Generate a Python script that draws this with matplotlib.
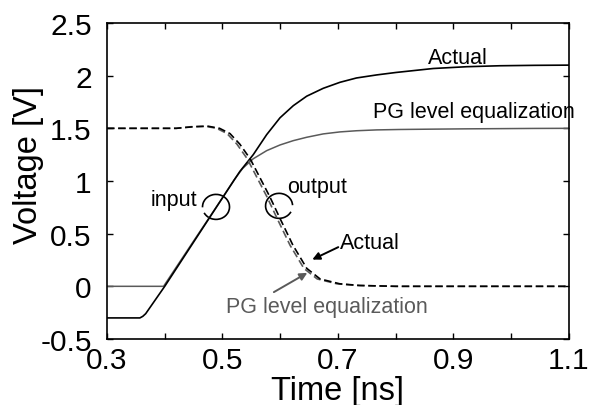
import numpy as np
import matplotlib
matplotlib.use('Agg')
import matplotlib.pyplot as plt
from matplotlib.patches import Arc

plt.rcParams['font.family'] = ['Liberation Sans', 'DejaVu Sans']

# ------------------------------------------
# Waveforms (time in ns, voltage in V)
# ------------------------------------------

# Input, actual level (rises to ~2.1 V)
t_in_act = [0.30, 0.357, 0.362, 0.367, 0.40, 0.45, 0.50, 0.53, 0.5533, 0.5765,
            0.5996, 0.6226, 0.6458, 0.6745, 0.7035, 0.732, 0.767, 0.80,
            0.865, 0.923, 0.98, 1.04, 1.10]
v_in_act = [-0.30, -0.30, -0.285, -0.26, 0.0, 0.42, 0.84, 1.09, 1.25, 1.44,
            1.60, 1.715, 1.805, 1.88, 1.937, 1.978, 2.007, 2.03,
            2.068, 2.085, 2.094, 2.098, 2.10]

# Input, PG level equalization (rises to 1.5 V)
t_in_pg = [0.30, 0.398, 0.45, 0.50, 0.52, 0.535, 0.553, 0.5765, 0.5996, 0.6226,
           0.6458, 0.6745, 0.7035, 0.732, 0.767, 0.807, 0.86, 0.92, 0.98, 1.04, 1.10]
v_in_pg = [0.0, 0.0, 0.43, 0.84, 1.01, 1.12, 1.21, 1.288, 1.342, 1.383,
           1.415, 1.447, 1.466, 1.477, 1.485, 1.489, 1.492, 1.495, 1.497, 1.499, 1.50]

# Output, actual
t_out_act = [0.30, 0.42, 0.45, 0.475, 0.495, 0.513, 0.53, 0.548, 0.565, 0.582,
             0.600, 0.622, 0.646, 0.669, 0.703, 0.738, 0.80, 1.10]
v_out_act = [1.50, 1.50, 1.515, 1.52, 1.50, 1.45, 1.35, 1.21, 1.03, 0.85,
             0.64, 0.39, 0.17, 0.07, 0.024, 0.008, 0.0, 0.0]

# Output, PG level equalization
t_out_pg = [0.30, 0.42, 0.445, 0.47, 0.49, 0.508, 0.525, 0.543, 0.56, 0.577,
            0.595, 0.617, 0.641, 0.664, 0.698, 0.733, 0.80, 1.10]
v_out_pg = [1.50, 1.50, 1.515, 1.52, 1.50, 1.45, 1.35, 1.21, 1.03, 0.85,
            0.64, 0.39, 0.17, 0.07, 0.024, 0.008, 0.0, 0.0]

x_ticks = [0.3, 0.5, 0.7, 0.9, 1.1]
x_minor = [0.4, 0.6, 0.8, 1.0]
y_ticks = [-0.5, 0, 0.5, 1, 1.5, 2, 2.5]
y_labels = ['-0.5', '0', '0.5', '1', '1.5', '2', '2.5']

gray = '#5a5a5a'

# ------------------------------------------
# Plot
# ------------------------------------------

fig = plt.figure(figsize=(5.93, 4.06), dpi=100)
ax = fig.add_axes([0.1804, 0.1626, 0.7791, 0.7783])

ax.plot(t_in_pg, v_in_pg, color=gray, lw=1.1)
ax.plot(t_in_act, v_in_act, color='black', lw=1.2)
ax.plot(t_out_pg, v_out_pg, color=gray, lw=1.2, dashes=(4.5, 2.2))
ax.plot(t_out_act, v_out_act, color='black', lw=1.2, dashes=(4.5, 2.2))

# circle marks for input / output
rx, ry = 13.5 / 577.5, 12.5 / 105.4
ax.add_patch(Arc((0.4888, 0.754), 2 * rx, 2 * ry, theta1=-110, theta2=190,
                 color='black', lw=1.2))
ax.add_patch(Arc((0.598, 0.764), 2 * rx, 2 * ry, theta1=15, theta2=290,
                 color='black', lw=1.2))

fs = 15.5
ax.text(0.4558, 0.82, 'input', fontsize=fs, ha='right', va='center')
ax.text(0.6125, 0.944, 'output', fontsize=fs, ha='left', va='center')
ax.text(0.908, 2.17, 'Actual', fontsize=fs, ha='center', va='center')
ax.text(0.9355, 1.656, 'PG level equalization', fontsize=fs, ha='center',
        va='center', clip_on=False, zorder=1)
ax.text(0.755, 0.4127, 'Actual', fontsize=fs, ha='center', va='center')
ax.text(0.680, -0.195, 'PG level equalization', fontsize=fs, ha='center',
        va='center', color=gray)

ax.annotate('', xy=(0.6555, 0.254), xytext=(0.7005, 0.372),
            arrowprops=dict(arrowstyle='-|>', color='black', lw=1.4,
                            mutation_scale=11, shrinkA=0, shrinkB=0))
ax.annotate('', xy=(0.6469, 0.128), xytext=(0.589, -0.055),
            arrowprops=dict(arrowstyle='-|>', color=gray, lw=1.4,
                            mutation_scale=11, shrinkA=0, shrinkB=0))

ax.set_xlim(0.3, 1.1)
ax.set_ylim(-0.5, 2.5)
ax.set_xticks(x_ticks)
ax.set_xticks(x_minor, minor=True)
ax.set_yticks(y_ticks)
ax.set_yticklabels(y_labels)
ax.tick_params(which='both', direction='in', top=True, right=True,
               length=4, width=1)
ax.tick_params(axis='x', labelsize=21.5, pad=5)
ax.tick_params(axis='y', labelsize=21.5, pad=11)
for s in ax.spines.values():
    s.set_linewidth(1.2)

ax.set_xlabel('Time [ns]', fontsize=23.5)
ax.set_ylabel('Voltage [V]', fontsize=23.5)
ax.xaxis.set_label_coords(0.5, -0.115)
ax.yaxis.set_label_coords(-0.137, 0.555)

fig.savefig('out.png', dpi=100)
